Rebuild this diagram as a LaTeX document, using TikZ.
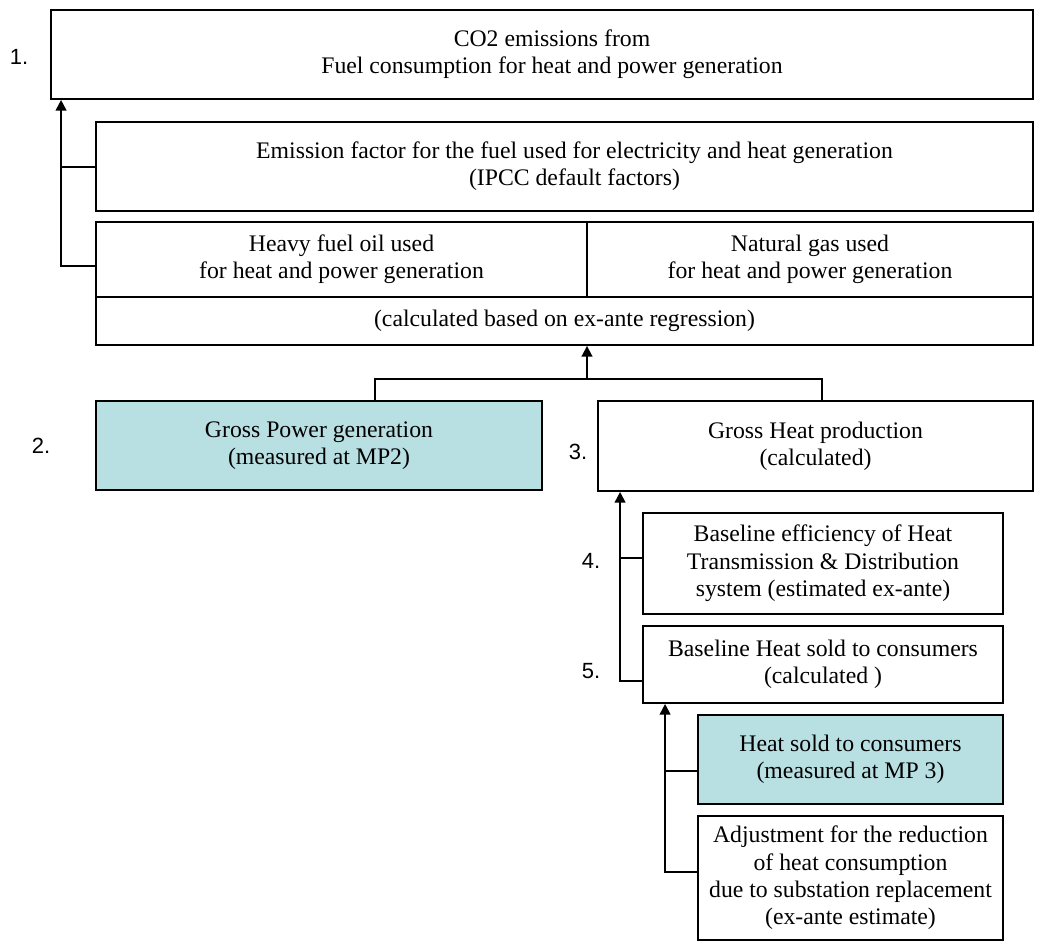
\documentclass[tikz,border=0pt]{standalone}
\usepackage{fontspec}
\setmainfont{Liberation Serif}
\newfontfamily\numfont{Liberation Sans}
\usepackage{tikz}
\usetikzlibrary{arrows.meta, positioning, calc}
\definecolor{meterteal}{RGB}{184,223,226}

\tikzset{
  box/.style 2 args={draw, line width=1.4pt, inner sep=0pt, align=center,
    minimum width=#1*0.75pt, minimum height=#2*0.75pt,
    font=\fontsize{17.8}{20.5}\selectfont},
  metered/.style={fill=meterteal},
  link/.style={line width=1.4pt},
  arr/.style={link, -{Triangle[length=8pt, width=8pt]}},
  num/.style={font=\numfont\fontsize{16.5}{19}\selectfont}
}

\begin{document}
\begin{tikzpicture}[x=0.75pt, y=-0.75pt]
    \useasboundingbox (0,0) rectangle (1044,944);

    \node[box={982}{89}] (co2) at (542,54.5) {\hspace*{15pt}CO2 emissions from\\\hspace*{15pt}Fuel consumption for heat and power generation};
    \node[box={937}{89}] (emis) at (564.5,166.5) {\hspace*{15pt}Emission factor for the fuel used for electricity and heat generation\\\hspace*{15pt}(IPCC default factors)};
    \node[box={491}{75}] (hfo) at (341.5,259.5) {Heavy fuel oil used\\for heat and power generation};
    \node[box={446}{75}] (ng) at (810,259.5) {Natural gas used\\for heat and power generation};
    \node[box={937}{48}] (regr) at (564.5,321) {(calculated based on ex-ante regression)};
    \node[box={446}{89}, metered] (pow) at (319,445.5) {Gross Power generation\\(measured at MP2)};
    \node[box={435}{90}] (heat) at (815.5,446) {Gross Heat production\\(calculated)};
    \node[box={360}{101}] (eff) at (823,563.5) {Baseline efficiency of Heat\\Transmission \& Distribution\\system (estimated ex-ante)};
    \node[box={360}{77}] (base) at (823,664.5) {Baseline Heat sold to consumers\\(calculated )};
    \node[box={305}{89}, metered] (sold) at (850.5,759.5) {Heat sold to consumers\\(measured at MP 3)};
    \node[box={305}{124}] (adj) at (850.5,878) {Adjustment for the reduction\\of heat consumption\\due to substation replacement\\(ex-ante estimate)};

    \node[num] (lab1) at (19,57) {1.};
    \node[num] (lab2) at (41,446) {2.};
    \node[num] (lab3) at (578,452) {3.};
    \node[num] (lab4) at (591,561) {4.};
    \node[num] (lab5) at (591,671) {5.};

    \coordinate (t1) at ($(co2.south west)+(11,0)$);
    \draw[arr] ($(hfo.west)+(0,6.5)$) -| (t1);
    \draw[link] ($(emis.west)+(0,0.5)$) -- ($(emis.west -| t1)+(0,0.5)$);

    \coordinate (j2) at (587,379);
    \draw[link] ($(pow.north)+(56,0)$) |- (j2) -| ($(heat.north)+(6.5,0)$);
    \draw[arr] (j2) -- (j2 |- regr.south);

    \coordinate (t3) at ($(heat.south west)+(23,0)$);
    \draw[arr] ($(base.west)+(0,16.5)$) -| (t3);
    \draw[link] ($(eff.west)+(0,-5.5)$) -- ($(eff.west -| t3)+(0,-5.5)$);

    \coordinate (t4) at ($(base.south west)+(23,0)$);
    \draw[arr] ($(adj.west)+(0,-6)$) -| (t4);
    \draw[link] ($(sold.west)+(0,11.5)$) -- ($(sold.west -| t4)+(0,11.5)$);
  \end{tikzpicture}
\end{document}
